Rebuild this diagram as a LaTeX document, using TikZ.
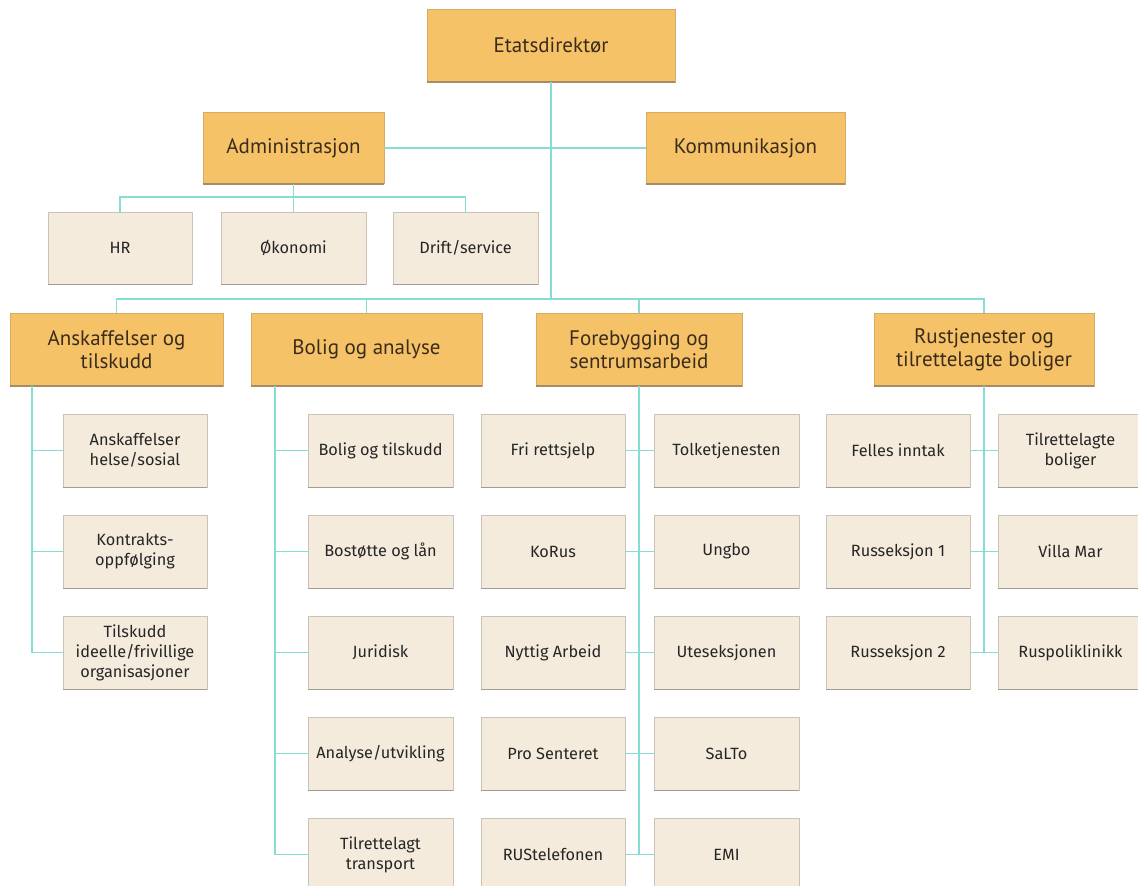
\documentclass[tikz,border=0pt]{standalone}
\usepackage{fontspec}
\setmainfont{PT Sans}
\newfontfamily\subfont{Fira Sans}
\definecolor{hdrfill}{HTML}{F6C267}
\definecolor{hdrborder}{HTML}{D9AA62}
\definecolor{hdrshadow}{HTML}{A88B63}
\definecolor{subfill}{HTML}{F4EBDC}
\definecolor{subborder}{HTML}{CBC3B6}
\definecolor{subshadow}{HTML}{A39C91}
\definecolor{connc}{HTML}{86DDD4}
\definecolor{hdrtext}{HTML}{3A2C1C}
\definecolor{subtext}{HTML}{262626}
\begin{document}
\begin{tikzpicture}[x=1pt,y=-1pt,
  hdr/.style={rectangle, fill=hdrfill, draw=hdrborder, line width=0.6pt, inner sep=0pt,
    minimum height=73pt, align=center, text=hdrtext,
    font=\fontsize{21}{23}\selectfont},
  subbox/.style={rectangle, fill=subfill, draw=subborder, line width=0.8pt, inner sep=0pt,
    minimum width=145pt, minimum height=73pt, align=center, text=subtext,
    font=\subfont\fontsize{16.3}{20}\selectfont},
  conn/.style={draw=connc, line width=1.1pt},
  hsh/.style={draw=hdrshadow, line width=2pt},
  ssh/.style={draw=subshadow, line width=1.6pt}]
\useasboundingbox (0,0) rectangle (1138,886);
\fill[white] (0,0) rectangle (1138,886);

\coordinate (bus) at (551,299);
\coordinate (abus) at (293.5,197);
\coordinate (ansv) at (32,386);
\coordinate (bolv) at (275,386);

% top level
\node[hdr, minimum width=248pt] (ed) at (551,45.5) {Etatsdirektør};
\node[hdr, minimum width=181pt, minimum height=71pt] (adm) at (293.5,148) {Administrasjon};
\node[hdr, minimum width=199pt, minimum height=72pt] (kom) at (745.5,148) {Kommunikasjon};

\node[subbox, minimum width=144pt, minimum height=72pt] (hr) at (120,248) {HR};
\node[subbox, minimum height=72pt] (oek) at (293.5,248) {Økonomi};
\node[subbox, minimum height=72pt] (drift) at (465.5,248) {Drift/service};

\node[hdr, minimum width=213pt] (ans) at (116.5,349.5) {Anskaffelser og\\tilskudd};
\node[hdr, minimum width=231pt] (bol) at (366.5,349.5) {Bolig og analyse};
\node[hdr, minimum width=206pt] (fore) at (639,349.5) {Forebygging og\\sentrumsarbeid};
\node[hdr, minimum width=220pt] (rust) at (984,349.5) {Rustjenester og\\tilrettelagte boliger};

% Anskaffelser column
\node[subbox, minimum width=144pt] (a1) at (135,450.5) {Anskaffelser\\helse/sosial};
\node[subbox, minimum width=144pt] (a2) at (135,551.5) {Kontrakts-\\oppfølging};
\node[subbox, minimum width=144pt] (a3) at (135,652.5) {Tilskudd\\ideelle/frivillige\\organisasjoner};

% Bolig column
\node[subbox] (b1) at (380.5,450.5) {Bolig og tilskudd};
\node[subbox] (b2) at (380.5,551.5) {Bostøtte og lån};
\node[subbox] (b3) at (380.5,652.5) {Juridisk};
\node[subbox] (b4) at (380.5,753.5) {Analyse/utvikling};
\node[subbox] (b5) at (380.5,854.5) {Tilrettelagt\\transport};

% Forebygging columns
\node[subbox, minimum width=144pt] (f1l) at (553,450.5) {Fri rettsjelp};
\node[subbox, minimum width=144pt] (f2l) at (553,551.5) {KoRus};
\node[subbox, minimum width=144pt] (f3l) at (553,652.5) {Nyttig Arbeid};
\node[subbox, minimum width=144pt] (f4l) at (553,753.5) {Pro Senteret};
\node[subbox, minimum width=144pt] (f5l) at (553,854.5) {RUStelefonen};
\node[subbox] (f1r) at (726.5,450.5) {Tolketjenesten};
\node[subbox] (f2r) at (726.5,551.5) {Ungbo};
\node[subbox] (f3r) at (726.5,652.5) {Uteseksjonen};
\node[subbox] (f4r) at (726.5,753.5) {SaLTo};
\node[subbox] (f5r) at (726.5,854.5) {EMI};

% Rustjenester columns
\node[subbox, minimum width=144pt] (r1l) at (898,450.5) {Felles inntak};
\node[subbox, minimum width=144pt] (r2l) at (898,551.5) {Russeksjon 1};
\node[subbox, minimum width=144pt] (r3l) at (898,652.5) {Russeksjon 2};
\node[subbox] (r1r) at (1070.5,450.5) {Tilrettelagte\\boliger};
\node[subbox] (r2r) at (1070.5,551.5) {Villa Mar};
\node[subbox] (r3r) at (1070.5,652.5) {Ruspoliklinikk};

% shadows on bottom edges
\foreach \n in {ed,adm,kom,ans,bol,fore,rust}
  \draw[hsh] (\n.south west) -- (\n.south east);
\foreach \n in {hr,oek,drift,a1,a2,a3,b1,b2,b3,b4,b5,f1l,f2l,f3l,f4l,f5l,f1r,f2r,f3r,f4r,f5r,r1l,r2l,r3l,r1r,r2r,r3r}
  \draw[ssh] (\n.south west) -- (\n.south east);

% connectors
\draw[conn] (ed.south) -- (bus);
\draw[conn] (adm.east) -- (kom.west);
\draw[conn] (adm.south) -- (abus);
\draw[conn] (hr.north) |- (abus);
\draw[conn] (drift.north) |- (abus);
\draw[conn] (oek.north) -- (abus);
\draw[conn] (ans.north) |- (bus);
\draw[conn] (rust.north) |- (bus);
\draw[conn] (bol.north) -- (bol.north |- bus);
\draw[conn] (fore.north) -- (fore.north |- bus);
\draw[conn] (ans.south -| ansv) |- (a1.west);
\draw[conn] (ansv) |- (a2.west);
\draw[conn] (ansv) |- (a3.west);
\foreach \i in {1,...,5} \draw[conn] (bolv) |- (b\i.west);
\draw[conn] (fore.south) -- (fore.south |- f5l.east);
\foreach \i in {1,...,5} \draw[conn] (f\i l.east) -- (f\i r.west);
\draw[conn] (rust.south) -- (rust.south |- r3l.east);
\foreach \i in {1,2,3} \draw[conn] (r\i l.east) -- (r\i r.west);
\end{tikzpicture}
\end{document}
